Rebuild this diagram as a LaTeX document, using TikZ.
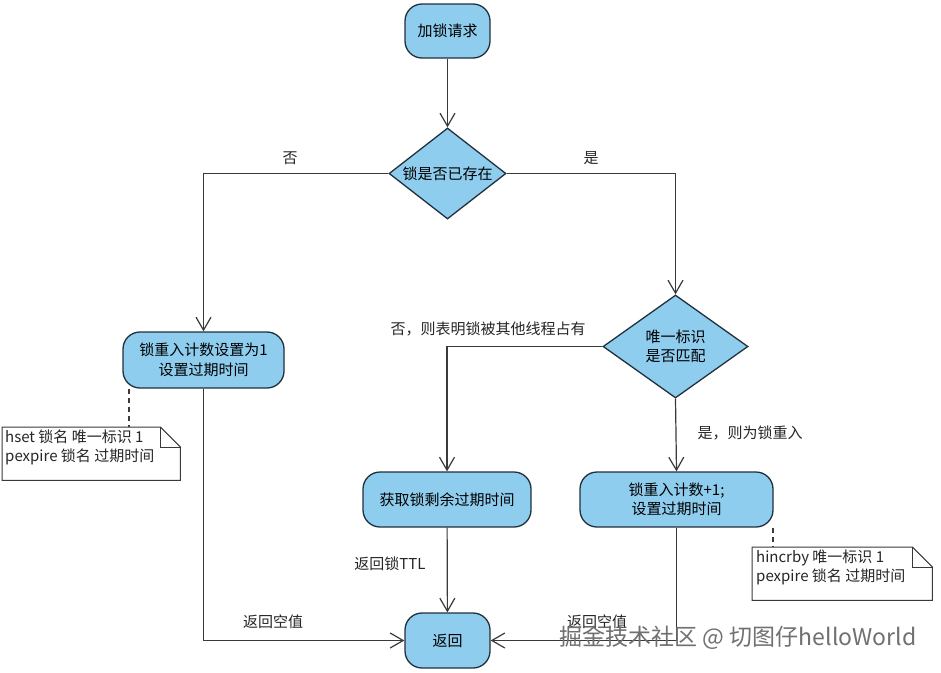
\documentclass[tikz,border=0pt]{standalone}
\usepackage{fontspec}
\setmainfont{Noto Sans CJK SC}
\usetikzlibrary{shapes.geometric,arrows.meta}
\definecolor{boxfill}{HTML}{8ECDEE}
\definecolor{boxline}{HTML}{22303C}
\definecolor{linecol}{HTML}{3A3A3A}
\definecolor{wmcol}{HTML}{707070}
\begin{document}
\begin{tikzpicture}[x=1pt,y=-1pt,
  rbox/.style={draw=boxline,fill=boxfill,line width=1.3pt,rounded corners=17pt,align=center,font=\fontsize{15}{19.5}\selectfont,inner sep=2pt},
  dia/.style={diamond,draw=boxline,fill=boxfill,line width=1.3pt,aspect=1.3,inner sep=0pt,align=center,font=\fontsize{15}{19.5}\selectfont},
  arr/.style={draw=linecol,line width=1.2pt,-{Straight Barb[length=13pt,width=15pt,line width=1.2pt]}},
  lbl/.style={font=\fontsize{15}{18}\selectfont,text=black!85},
  notebox/.style={minimum width=#1,minimum height=53pt,inner sep=0pt,anchor=north west},
  notetxt/.style={font=\fontsize{15}{18.5}\selectfont,align=left,anchor=north west,inner sep=0pt,text=black!85},
  noteline/.style={draw=linecol,line width=1pt,fill=white},
  dashline/.style={draw=linecol,line width=1.2pt,dash pattern=on 5pt off 4pt}
]
\useasboundingbox (0,0) rectangle (941,672);
\fill[white] (0,0) rectangle (941,672);

% nodes
\node[rbox,minimum width=85pt,minimum height=54pt] (start) at (447.5,31) {加锁请求};
\node[dia,minimum width=117pt,minimum height=91pt] (d1) at (447.5,173.5) {锁是否已存在};
\node[rbox,minimum width=161pt,minimum height=56pt] (b1) at (203.5,360) {锁重入计数设置为1\\设置过期时间};
\node[dia,minimum width=145pt,minimum height=103pt] (d2) at (675.5,346.5) {唯一标识\\是否匹配};
\node[rbox,minimum width=168pt,minimum height=55pt] (b2) at (447,499.5) {获取锁剩余过期时间};
\node[rbox,minimum width=193pt,minimum height=55pt] (b3) at (676.5,499.5) {锁重入计数+1;\\设置过期时间};
\node[rbox,minimum width=85pt,minimum height=55pt] (ret) at (447.5,640.5) {返回};

% connectors
\draw[arr] (start) -- (d1);
\draw[arr] (d1.west) -| (b1.north);
\draw[arr] (d1.east) -| (d2.north);
\draw[arr] (d2.west) -| (b2.north);
\draw[arr] (d2.south) -- (b3.north);
\draw[arr] (b2) -- (ret);
\draw[arr] (b1.south) |- (ret.west);
\draw[arr] (b3.south) |- (ret.east);

% labels
\node[lbl] (l1) at (290,158) {否};
\node[lbl] (l2) at (591,158) {是};
\node[lbl] (l3) at (488,329) {否，则表明锁被其他线程占有};
\node[lbl] (l4) at (750,433) {是，则为锁重入};
\node[lbl] (l5) at (390,564) {返回锁TTL};
\node[lbl] (l6) at (273,622) {返回空值};
\node[lbl] (l7) at (597,622) {返回空值};

% note 1
\node[notebox=178pt] (n1) at (2,427) {};
\path[noteline] (n1.north west) -- ([xshift=-20pt]n1.north east) -- ([yshift=-20pt]n1.north east) -- (n1.south east) -- (n1.south west) -- cycle;
\draw[noteline,fill=none] ([xshift=-20pt]n1.north east) -- ([xshift=-20pt,yshift=-20pt]n1.north east) -- ([yshift=-20pt]n1.north east);
\node[notetxt] (t1) at (5,430) {hset 锁名 唯一标识 1\\pexpire 锁名 过期时间};
\coordinate (c1) at (129,389);
\draw[dashline] (c1) -- (c1 |- n1.north);

% note 2
\node[notebox=180pt] (n2) at (752,547) {};
\path[noteline] (n2.north west) -- ([xshift=-20pt]n2.north east) -- ([yshift=-20pt]n2.north east) -- (n2.south east) -- (n2.south west) -- cycle;
\draw[noteline,fill=none] ([xshift=-20pt]n2.north east) -- ([xshift=-20pt,yshift=-20pt]n2.north east) -- ([yshift=-20pt]n2.north east);
\node[notetxt] (t2) at (756,550) {hincrby 唯一标识 1\\pexpire 锁名 过期时间};
\coordinate (c2) at (773,528);
\draw[dashline] (c2) -- (c2 |- n2.north);

% watermark
\node[font=\fontsize{23}{26}\selectfont,text=wmcol] (wm) at (738,638) {掘金技术社区 @ 切图仔helloWorld};
\end{tikzpicture}
\end{document}
